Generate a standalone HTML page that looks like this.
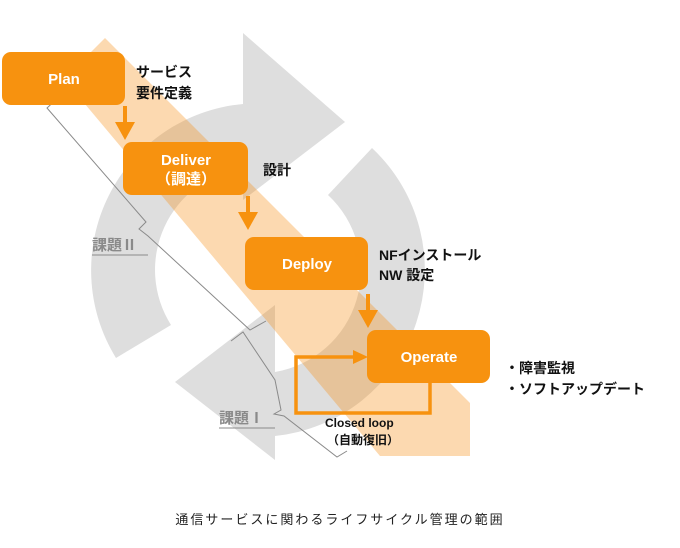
<!DOCTYPE html>
<html><head><meta charset="utf-8"><style>
html,body{margin:0;padding:0;background:#fff;}
svg{display:block;}
text{font-family:"Liberation Sans","Noto Sans CJK JP",sans-serif;}
</style></head><body>
<svg width="680" height="548" viewBox="0 0 680 548" xmlns="http://www.w3.org/2000/svg">
<g fill="#dedede">
  <path d="M116,358 A167,167 0 0 1 243,104 L243,168 A103,103 0 0 0 171,325 Z"/>
  <polygon points="243,33 345,122 243,200"/>
  <path d="M372,148 A167,167 0 0 1 275,436 L275,372 A103,103 0 0 0 328,195 Z"/>
  <polygon points="275,305 175,382 275,460"/>
</g>
<polygon points="105,38 470,403 470,456 380,456 64,79" fill="#f7931e" fill-opacity="0.35"/>
<g fill="none" stroke="#8a8a8a" stroke-width="1">
  <polyline points="60,96 47,108 146,222 139,229 148,236 250,330 266,321"/>
  <polyline points="231,341 243,332 275,380 281,410 274,414 284,416 337,457 347,451"/>
</g>
<g fill="#8a8a8a" font-size="15" font-weight="bold">
  <text x="92" y="250">課題Ⅱ</text>
  <text x="219" y="423">課題Ⅰ</text>
</g>
<line x1="92" y1="255" x2="148" y2="255" stroke="#8a8a8a" stroke-width="1"/>
<line x1="219" y1="428" x2="275" y2="428" stroke="#8a8a8a" stroke-width="1"/>
<g stroke="#f7920f" stroke-width="4" fill="#f7920f">
  <line x1="125" y1="106" x2="125" y2="126"/>
  <line x1="248" y1="196" x2="248" y2="216"/>
  <line x1="368" y1="294" x2="368" y2="314"/>
</g>
<g fill="#f7920f">
  <polygon points="115,122 135,122 125,140"/>
  <polygon points="238,212 258,212 248,230"/>
  <polygon points="358,310 378,310 368,328"/>
</g>
<polyline points="430,383 430,413 296,413 296,357 355,357" fill="none" stroke="#f7920f" stroke-width="3.5"/>
<polygon points="353,350 368,357 353,364" fill="#f7920f"/>
<g fill="#f7920f">
  <rect x="2" y="52" width="123" height="53" rx="9"/>
  <rect x="123" y="142" width="125" height="53" rx="9"/>
  <rect x="245" y="237" width="123" height="53" rx="9"/>
  <rect x="367" y="330" width="123" height="53" rx="9"/>
</g>
<g fill="#fff" font-size="15" font-weight="bold" text-anchor="middle">
  <text x="64" y="84">Plan</text>
  <text x="186" y="165">Deliver</text>
  <text x="186" y="184">（調達）</text>
  <text x="307" y="269">Deploy</text>
  <text x="429" y="362">Operate</text>
</g>
<g fill="#111" font-size="14" font-weight="bold">
  <text x="136" y="77">サービス</text>
  <text x="136" y="98">要件定義</text>
  <text x="263" y="175">設計</text>
  <text x="379" y="260">NFインストール</text>
  <text x="379" y="280">NW 設定</text>
  <text x="505" y="373">・障害監視</text>
  <text x="505" y="394">・ソフトアップデート</text>
</g>
<g fill="#111" font-size="12" font-weight="bold">
  <text x="325" y="427">Closed loop</text>
  <text x="327" y="444">（自動復旧）</text>
</g>
<text x="340" y="524" text-anchor="middle" font-size="13" fill="#222" letter-spacing="2">通信サービスに関わるライフサイクル管理の範囲</text>
</svg>
</body></html>
